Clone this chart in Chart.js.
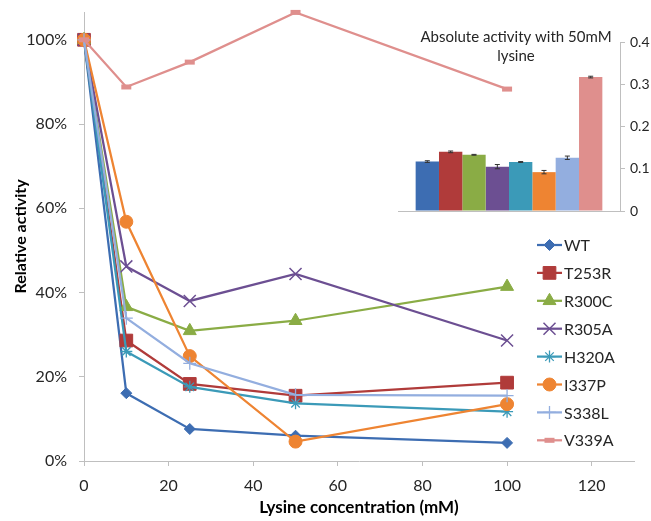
<!DOCTYPE html>
<html><head><meta charset="utf-8">
<script src="https://cdn.jsdelivr.net/npm/chart.js@4.4.1/dist/chart.umd.min.js"></script>
<style>
html,body{margin:0;padding:0;background:#fff;}
#wrap{position:relative;width:651px;height:521px;overflow:hidden;}
#main{position:absolute;left:0;top:0;}
#inset{position:absolute;left:381px;top:0;}
</style></head><body>
<div id="wrap"><canvas id="main" width="651" height="521"></canvas><canvas id="inset" width="270" height="230"></canvas></div>
<script>
// ---- data ----
const concentrations = [0, 10, 25, 50, 100];
const seriesNames = ['WT', 'T253R', 'R300C', 'R305A', 'H320A', 'I337P', 'S338L', 'V339A'];
const WT    = [1, 0.161, 0.076, 0.060, 0.043];
const T253R = [1, 0.286, 0.183, 0.155, 0.186];
const R300C = [1, 0.366, 0.309, 0.333, 0.414];
const R305A = [1, 0.462, 0.380, 0.444, 0.286];
const H320A = [1, 0.260, 0.176, 0.137, 0.117];
const I337P = [1, 0.568, 0.249, 0.046, 0.135];
const S338L = [1, 0.339, 0.232, 0.157, 0.155];
const V339A = [1, 0.888, 0.947, 1.065, 0.883];
const xTickValues = [0, 20, 40, 60, 80, 100, 120];
const yTickValues = [0, 0.2, 0.4, 0.6, 0.8, 1.0];
const absActivity = [0.117, 0.140, 0.133, 0.105, 0.116, 0.092, 0.126, 0.317];
const absError    = [0.002, 0.002, 0.001, 0.005, 0.001, 0.004, 0.004, 0.002];
const insetTickValues = [0, 0.1, 0.2, 0.3, 0.4];
const insetTitle = ['Absolute activity with 50mM', 'lysine'];

// ---- styles ----
const seriesValues = [WT, T253R, R300C, R305A, H320A, I337P, S338L, V339A];
const colors = ['#3d6db2','#b03b3a','#8aac45','#6c4f92','#3b9ab8','#ee8432','#93aedf','#df8f8d'];
const pStyles = ['rectRot','rect','triangle','crossRot','star','circle','cross','line'];
const pRadius = [5.5, 9, 7.5, 8.5, 6, 6.5, 6.5, 5];
const pBorder = [1, 1, 1, 1.5, 1.3, 1, 1.3, 5];

Chart.defaults.font.family = 'Lato, "Open Sans", sans-serif';
Chart.defaults.color = '#262626';
const axisGray = '#bfbfbf';
const noPad = s => { s.paddingTop = 0; s.paddingBottom = 0; s.paddingLeft = 0; s.paddingRight = 0; };

const legendPlugin = {
  id: 'floatLegend',
  afterDraw(chart) {
    const ctx = chart.ctx;
    ctx.save();
    chart.data.datasets.forEach((ds, i) => {
      const y = 245 + i * 27.9;
      ctx.strokeStyle = ds.borderColor;
      ctx.lineWidth = 2.25;
      ctx.beginPath(); ctx.moveTo(537, y); ctx.lineTo(562, y); ctx.stroke();
      ctx.fillStyle = ds.pointBackgroundColor;
      ctx.strokeStyle = ds.pointBorderColor;
      ctx.lineWidth = ds.pointBorderWidth;
      Chart.helpers.drawPoint(ctx, {pointStyle: ds.pointStyle, rotation: 0, radius: ds.pointRadius, borderWidth: ds.pointBorderWidth}, 549.5, y);
      ctx.fillStyle = '#262626';
      ctx.font = '16px Lato';
      ctx.textBaseline = 'middle';
      ctx.textAlign = 'left';
      ctx.fillText(ds.label, 564, y + 1);
    });
    ctx.restore();
  }
};

new Chart(document.getElementById('main'), {
  type: 'line',
  data: {
    datasets: seriesNames.map((name, i) => ({
      label: name,
      data: concentrations.map((c, j) => ({x: c, y: seriesValues[i][j]})),
      borderColor: colors[i], backgroundColor: colors[i], borderWidth: 2.25,
      pointStyle: pStyles[i], pointRadius: pRadius[i], pointBorderWidth: pBorder[i],
      pointBorderColor: colors[i], pointBackgroundColor: colors[i],
      order: seriesNames.length - i, clip: false, tension: 0
    }))
  },
  options: {
    responsive: false, animation: false, devicePixelRatio: 1,
    layout: {padding: {left: 0, right: 17, top: 12, bottom: 0}},
    plugins: {legend: {display: false}, tooltip: {enabled: false}},
    scales: {
      x: {
        type: 'linear', min: 0, max: 130,
        afterBuildTicks: s => { s.ticks = xTickValues.map(v => ({value: v})); },
        afterFit: s => { s.height = 60; noPad(s); },
        grid: {drawOnChartArea: false, tickLength: 5, color: axisGray},
        border: {color: axisGray},
        ticks: {padding: 10, font: {size: 16}, maxRotation: 0},
        title: {display: true, text: 'Lysine concentration (mM)', color: '#000', font: {size: 17, weight: 'bold'}, padding: {top: 0, bottom: 3}}
      },
      y: {
        min: 0, max: 1.066,
        afterBuildTicks: s => { s.ticks = yTickValues.map(v => ({value: v})); },
        afterFit: s => { s.width = 84; noPad(s); },
        grid: {drawOnChartArea: false, tickLength: 5, color: axisGray},
        border: {color: axisGray},
        ticks: {padding: 12, font: {size: 16}, callback: v => Math.round(v * 100) + '%'},
        title: {display: true, text: 'Relative activity', color: '#000', font: {size: 16, weight: 'bold'}, padding: {top: 11, bottom: 0}}
      }
    }
  },
  plugins: [legendPlugin]
});

const errorBarPlugin = {
  id: 'errorBars',
  afterDatasetsDraw(chart) {
    const ctx = chart.ctx, ys = chart.scales.y;
    ctx.save();
    ctx.strokeStyle = '#333';
    ctx.lineWidth = 1;
    absActivity.forEach((v, i) => {
      const el = chart.getDatasetMeta(i).data[0];
      const x = el.x, t = ys.getPixelForValue(v + absError[i]), b = ys.getPixelForValue(v - absError[i]);
      ctx.beginPath();
      ctx.moveTo(x, t); ctx.lineTo(x, b);
      ctx.moveTo(x - 2.5, t); ctx.lineTo(x + 2.5, t);
      ctx.moveTo(x - 2.5, b); ctx.lineTo(x + 2.5, b);
      ctx.stroke();
    });
    ctx.restore();
  }
};
const insetTitlePlugin = {
  id: 'insetTitle',
  afterDraw(chart) {
    const ctx = chart.ctx;
    ctx.save();
    ctx.fillStyle = '#262626';
    ctx.font = '15px Lato';
    ctx.textAlign = 'center';
    ctx.textBaseline = 'middle';
    insetTitle.forEach((line, k) => ctx.fillText(line, 135, 37 + k * 19));
    ctx.restore();
  }
};

new Chart(document.getElementById('inset'), {
  type: 'bar',
  data: {
    labels: [''],
    datasets: seriesNames.map((name, i) => ({
      label: name, data: [absActivity[i]], backgroundColor: colors[i], borderWidth: 0,
      categoryPercentage: 0.841, barPercentage: 1
    }))
  },
  options: {
    responsive: false, animation: false, devicePixelRatio: 1,
    layout: {padding: {left: 17, top: 42, right: 0, bottom: 19}},
    plugins: {legend: {display: false}, tooltip: {enabled: false}},
    scales: {
      x: {
        ticks: {display: false}, grid: {display: false},
        border: {display: true, color: axisGray},
        afterFit: s => { s.height = 0; noPad(s); }
      },
      y: {
        position: 'right', min: 0, max: 0.4,
        afterBuildTicks: s => { s.ticks = insetTickValues.map(v => ({value: v})); },
        afterFit: s => { s.width = 31; noPad(s); },
        grid: {drawOnChartArea: false, tickLength: 5, color: axisGray},
        border: {color: axisGray},
        ticks: {padding: 5, font: {size: 14}, callback: v => v === 0 ? '0' : v.toFixed(1)}
      }
    }
  },
  plugins: [errorBarPlugin, insetTitlePlugin]
});
</script>
</body></html>
